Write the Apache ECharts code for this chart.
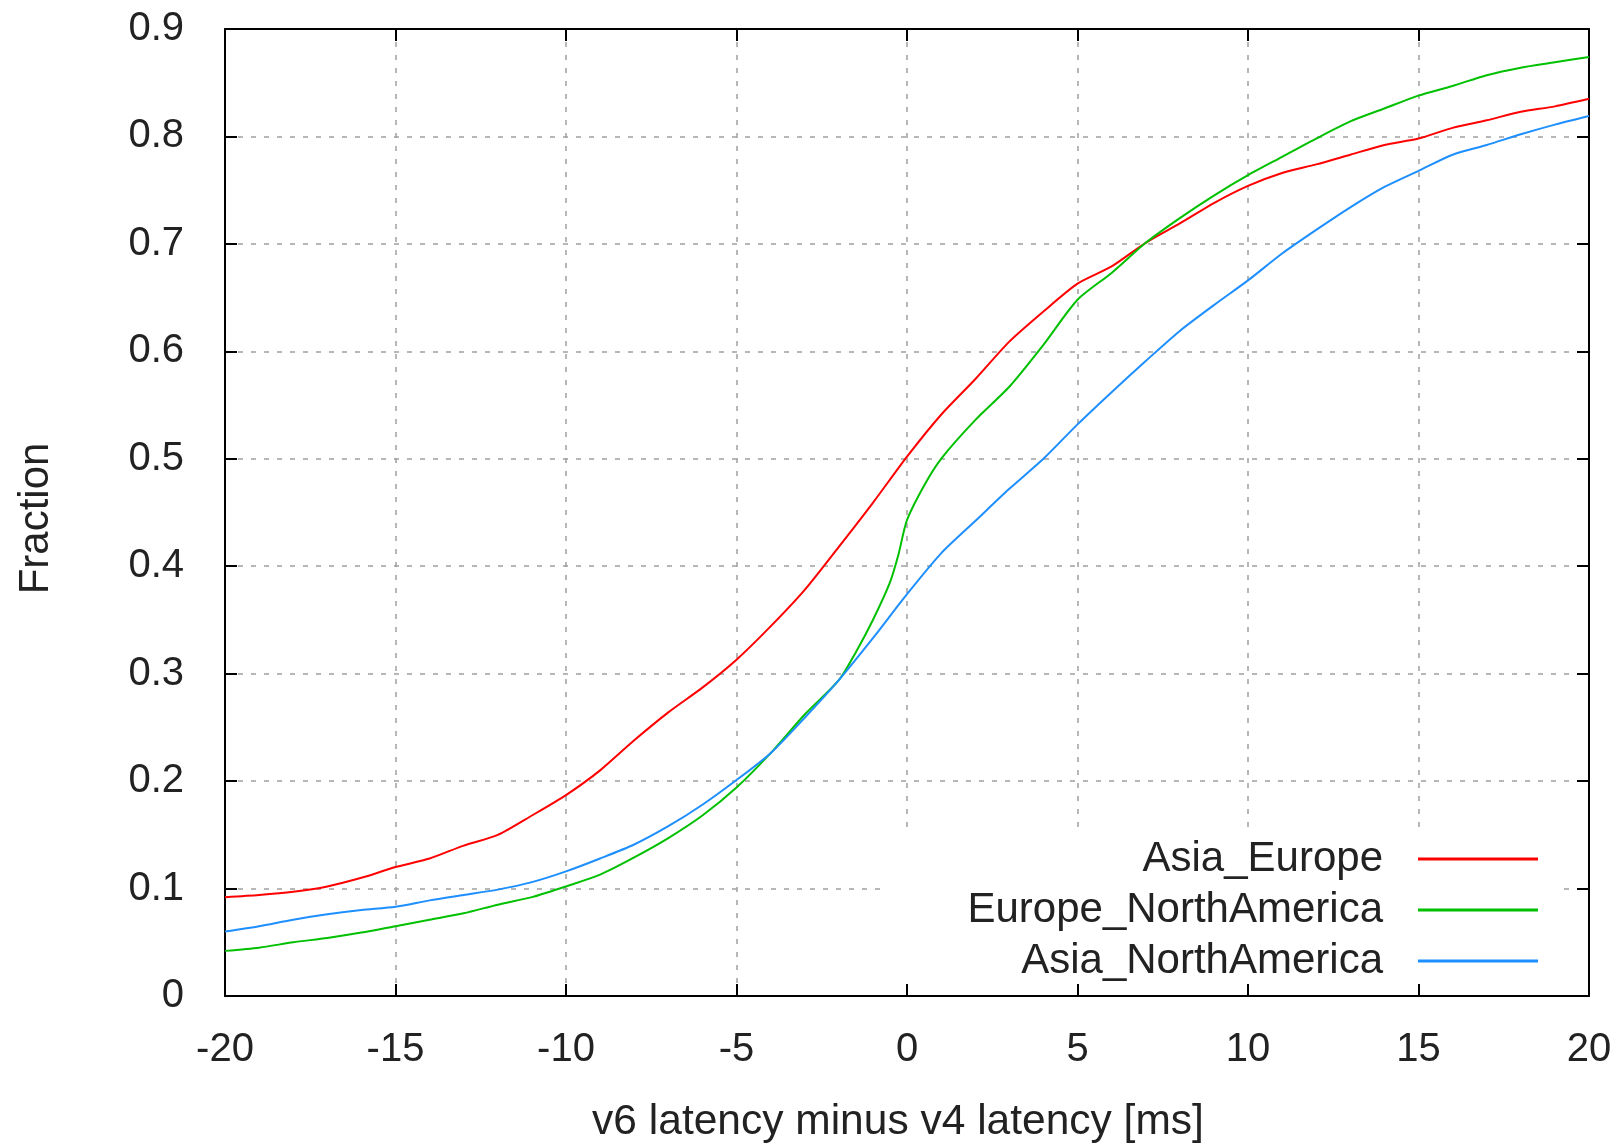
<!DOCTYPE html>
<html>
<head>
<meta charset="utf-8">
<script src="https://cdn.jsdelivr.net/npm/echarts@6/dist/echarts.min.js"></script>
<style>
  html, body { margin: 0; padding: 0; background: #fff; }
  #chart { width: 1622px; height: 1145px; }
</style>
</head>
<body>
<div id="chart"></div>
<script>
// x positions (ms) shared by most curves
const xSteps = [-20, -19, -18, -17, -16, -15, -14, -13, -12, -11, -10, -9, -8, -7, -6, -5, -4, -3, -2, -1, 0,
  1, 2, 3, 4, 5, 6, 7, 8, 9, 10, 11, 12, 13, 14, 15, 16, 17, 18, 19, 20];

const asiaEurope = [0.092, 0.094, 0.097, 0.102, 0.110, 0.120, 0.128, 0.140, 0.150, 0.168, 0.187, 0.210, 0.238,
  0.264, 0.287, 0.313, 0.344, 0.378, 0.418, 0.459, 0.502, 0.541, 0.574, 0.609, 0.637, 0.663, 0.679, 0.701,
  0.719, 0.738, 0.754, 0.766, 0.774, 0.783, 0.792, 0.798, 0.808, 0.815, 0.823, 0.828, 0.835];

// green curve has a steep step near 0, so a few extra points
const europeNAx = [-20, -19, -18, -17, -16, -15, -14, -13, -12, -11, -10, -9, -8, -7, -6, -5, -4, -3, -2, -1.5,
  -1, -0.5, -0.25, 0, 0.5, 1, 2, 3, 4, 5, 6, 7, 8, 9, 10, 11, 12, 13, 14, 15, 16, 17, 18, 19, 20];
const europeNA = [0.042, 0.045, 0.050, 0.054, 0.059, 0.065, 0.071, 0.077, 0.085, 0.092, 0.102, 0.113, 0.129,
  0.147, 0.168, 0.194, 0.226, 0.262, 0.294, 0.320, 0.350, 0.385, 0.411, 0.443, 0.475, 0.500, 0.536, 0.567,
  0.606, 0.648, 0.673, 0.701, 0.724, 0.745, 0.764, 0.781, 0.798, 0.814, 0.826, 0.838, 0.847, 0.857, 0.864,
  0.869, 0.874];

const asiaNA = [0.060, 0.065, 0.071, 0.076, 0.080, 0.083, 0.089, 0.094, 0.099, 0.106, 0.116, 0.128, 0.141,
  0.158, 0.178, 0.201, 0.226, 0.259, 0.294, 0.333, 0.374, 0.412, 0.442, 0.472, 0.500, 0.532, 0.562, 0.591,
  0.619, 0.643, 0.666, 0.691, 0.713, 0.734, 0.753, 0.768, 0.783, 0.792, 0.802, 0.811, 0.819];

const seriesNames = ["Asia_Europe", "Europe_NorthAmerica", "Asia_NorthAmerica"];
const colors = ["#ff0000", "#00c000", "#1e8fff"];

const pairs = (xs, ys) => xs.map((x, i) => [x, ys[i]]);

const font = "'Liberation Sans', Arial, sans-serif";
const frame = { onZero: false, lineStyle: { color: "#000", width: 2 } };
const tickIn = { inside: true, length: 12, lineStyle: { color: "#000", width: 2 } };
const grid = { show: true, lineStyle: { color: "#a0a0a0", width: 1.5, type: [5, 8] } };

const chart = echarts.init(document.getElementById("chart"));
chart.setOption({
  animation: false,
  backgroundColor: "#fff",
  color: colors,
  grid: { left: 225, right: 33, top: 29, bottom: 149, outerBoundsMode: "none" },
  xAxis: [
    {
      type: "value", min: -20, max: 20, interval: 5, position: "bottom",
      axisLine: frame, axisTick: tickIn, splitLine: grid,
      axisLabel: { color: "#222", fontFamily: font, fontSize: 40, margin: 34 },
      name: "v6 latency minus v4 latency [ms]", nameLocation: "middle", nameGap: 105,
      nameTextStyle: { color: "#222", fontFamily: font, fontSize: 42.5, padding: [0, 18, 0, 0] },
    },
    {
      type: "value", min: -20, max: 20, interval: 5, position: "top",
      axisLine: frame, axisTick: tickIn, axisLabel: { show: false }, splitLine: { show: false },
    },
  ],
  yAxis: [
    {
      type: "value", min: 0, max: 0.9, interval: 0.1, position: "left",
      axisLine: frame, axisTick: tickIn, splitLine: grid,
      axisLabel: {
        color: "#222", fontFamily: font, fontSize: 40, margin: 41,
        formatter: (v) => (v === 0 ? "0" : v.toFixed(1)),
      },
      name: "Fraction", nameLocation: "middle", nameGap: 168,
      nameTextStyle: { color: "#222", fontFamily: font, fontSize: 42, padding: [0, 12, 0, 0] },
    },
    {
      type: "value", min: 0, max: 0.9, interval: 0.1, position: "right",
      axisLine: frame, axisTick: tickIn, axisLabel: { show: false }, splitLine: { show: false },
    },
  ],
  // opaque key box, like gnuplot's
  graphic: [
    {
      type: "rect", z: 1, silent: true,
      shape: { x: 884, y: 832, width: 674, height: 152 },
      style: { fill: "#fff" },
    },
  ],
  legend: {
    orient: "vertical",
    align: "right",
    right: 79,
    top: 833,
    icon: "rect",
    itemWidth: 120,
    itemHeight: 3,
    itemGap: 9,
    selectedMode: false,
    textStyle: { color: "#222", fontFamily: font, fontSize: 42, lineHeight: 40, padding: [0, 30, 0, 0] },
    data: seriesNames,
  },
  series: [
    { name: seriesNames[0], type: "line", data: pairs(xSteps, asiaEurope) },
    { name: seriesNames[1], type: "line", data: pairs(europeNAx, europeNA) },
    { name: seriesNames[2], type: "line", data: pairs(xSteps, asiaNA) },
  ].map((s) => Object.assign(s, {
    showSymbol: false, symbol: "none", smooth: 0.25, lineStyle: { width: 2 }, z: 3,
  })),
});
</script>
</body>
</html>
